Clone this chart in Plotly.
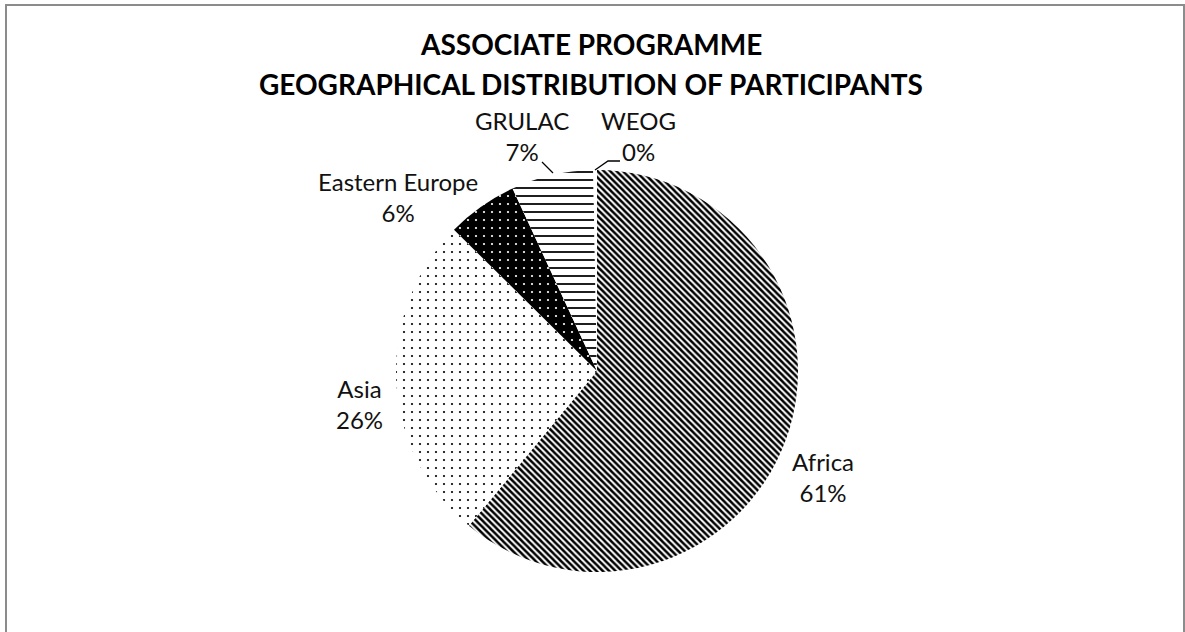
import plotly.graph_objects as go

# data
regions = ['Africa', 'Asia', 'Eastern Europe', 'GRULAC', 'WEOG']
shares = [61.0, 26.4, 5.7, 6.6, 0.3]

title_lines = ['ASSOCIATE PROGRAMME', 'GEOGRAPHICAL DISTRIBUTION OF PARTICIPANTS']

W, H = 1185, 632
FONT = 'Lato, Carlito, Calibri, sans-serif'

# where the labels sit (pixel centres, Excel-style layout)
label_pos = {
    'Africa': (823, 477),
    'Asia': (359, 404),
    'Eastern Europe': (398, 197),
    'GRULAC': (522, 136),
    'WEOG': (638, 136),
}

total = sum(shares)


def px(x, y):
    # pixel (from top-left) -> paper coords
    return x / W, 1 - y / H


fig = go.Figure()

fig.add_trace(go.Pie(
    labels=regions,
    values=shares,
    sort=False,
    direction='clockwise',
    rotation=0,
    textinfo='none',
    hoverinfo='label+percent',
    showlegend=False,
    domain=dict(x=[(597 - 201) / W, (597 + 201) / W],
                y=[(H - 371 - 201) / H, (H - 371 + 201) / H]),
    marker=dict(
        colors=['white', 'white', 'black', 'white', 'white'],
        line=dict(width=0, color='white'),
        pattern=dict(
            shape=['\\', '.', '.', '-', ''],
            fgcolor=['black', 'black', 'white', 'black', 'black'],
            bgcolor=['white', 'white', 'black', 'white', 'white'],
            size=[4.5, 8, 8, 8, 6],
            solidity=[0.55, 0.06, 0.06, 0.22, 0.3],
            fillmode='replace',
        ),
    ),
))

annotations = []

# title, two lines
for line, yc in zip(title_lines, [44, 84]):
    x, y = px(591, yc)
    annotations.append(dict(
        text=f'<b>{line}</b>', x=x, y=y, xref='paper', yref='paper',
        xanchor='center', yanchor='middle', showarrow=False,
        font=dict(family=FONT, size=28, color='black'),
    ))

# data labels
for name, v in zip(regions, shares):
    x, y = px(*label_pos[name])
    annotations.append(dict(
        text=f'{name}<br>{round(v / total * 100):.0f}%',
        x=x, y=y, xref='paper', yref='paper',
        xanchor='center', yanchor='middle',
        showarrow=False, align='center',
        font=dict(family=FONT, size=24, color='#111111'),
    ))

# leader lines for the two small slices
shapes = [
    dict(type='path', xref='paper', yref='paper',
         path=f'M {542 / W} {1 - 162 / H} L {553 / W} {1 - 173 / H}',
         line=dict(color='black', width=1.3)),
    dict(type='path', xref='paper', yref='paper',
         path=f'M {595 / W} {1 - 170 / H} L {608 / W} {1 - 161 / H} L {620 / W} {1 - 161 / H}',
         line=dict(color='black', width=1.3)),
    # chart area border
    dict(type='rect', xref='paper', yref='paper',
         x0=6 / W, x1=1184 / W, y0=-0.05, y1=1 - 5 / H,
         line=dict(color='#8c8c8c', width=2), fillcolor='rgba(0,0,0,0)', layer='below'),
]

fig.update_layout(
    annotations=annotations,
    shapes=shapes,
    width=W,
    height=H,
    margin=dict(l=0, r=0, t=0, b=0),
    paper_bgcolor='white',
    plot_bgcolor='white',
)

fig.write_html('out.html', config={'displayModeBar': False},
               post_script="document.body.style.margin='0px';")
